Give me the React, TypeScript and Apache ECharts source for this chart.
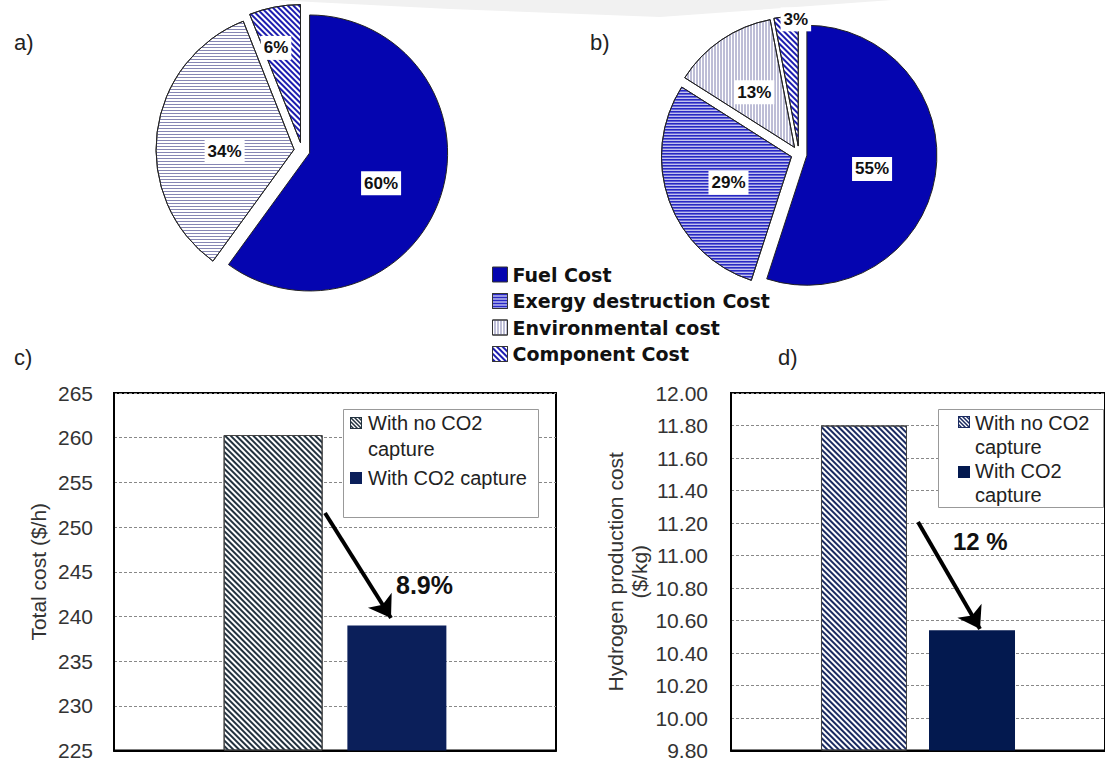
import React, { useEffect, useRef } from "react";
import * as echarts from "echarts";

// ---------- data ----------
const pieANames = ["Fuel Cost", "Environmental cost", "Component Cost"];
const pieAValues = [60, 34, 6];
const pieBNames = ["Fuel Cost", "Exergy destruction Cost", "Environmental cost", "Component Cost"];
const pieBValues = [55, 29, 13, 3];
const legendNames = ["Fuel Cost", "Exergy destruction Cost", "Environmental cost", "Component Cost"];

const barCategories = [""];
const barSeriesNames = ["With no CO2 capture", "With CO2 capture"];
const totalCostValues = [260.3, 239.0];
const h2CostValues = [11.8, 10.54];
const totalCostAxis = [225, 265, 5]; // min, max, interval
const h2CostAxis = [9.8, 12.0, 0.2];
const reductionLabels = ["8.9%", "12 %"];
const panelLabels = ["a)", "b)", "c)", "d)"];

// ---------- styles ----------
const FONT = "Liberation Sans, Arial, sans-serif";
const FUEL = "#0505b0";
const DIAG = Math.PI / 4;

const stripes = (color: string, line: number, gap: number, rotation: number) => ({
  symbol: "rect",
  symbolSize: 1,
  dashArrayX: [1, 0],
  dashArrayY: [line, gap],
  rotation,
  color,
  backgroundColor: "#ffffff",
});

const decalComponent = stripes("#1c1cb0", 2, 2, DIAG);
const decalExergy = stripes("#2828c4", 2, 1, 0);
const decalEnvB = stripes("#7c7cae", 1, 2, Math.PI / 2);
const decalEnvA = stripes("#8686b4", 1, 2, 0);

const pieBStyles = [
  { color: FUEL },
  { color: "#fff", decal: decalExergy },
  { color: "#fff", decal: decalEnvB },
  { color: "#fff", decal: decalComponent },
];
const pieAStyles = [
  { color: FUEL },
  { color: "#fff", decal: decalEnvA },
  { color: "#fff", decal: decalComponent },
];
const pieALabelShift = [[3, 8], [2, 11], [-11, -24]];
const pieBLabelShift = [[-2, 3], [1, 3], [-2, 1], [4, -59]];

const hatchIcon = (c: string) =>
  "data:image/svg+xml;charset=utf-8," +
  encodeURIComponent(
    `<svg xmlns="http://www.w3.org/2000/svg" width="12" height="12" viewBox="0 0 12 12"><rect x="0.5" y="0.5" width="11" height="11" fill="#fff" stroke="${c}" stroke-width="1"/><path d="M0,0L12,12M0,4L8,12M4,0L12,8M0,8L4,12M8,0L12,4" stroke="${c}" stroke-width="1.5" fill="none"/></svg>`
  );

function pieSeries(names: string[], values: number[], styles: any[], shifts: number[][], center: number[], radius: number) {
  return {
    type: "pie",
    center,
    radius: [0, radius],
    startAngle: 90,
    clockwise: true,
    selectedMode: "multiple",
    selectedOffset: 8,
    avoidLabelOverlap: false,
    emphasis: { disabled: true },
    itemStyle: { borderColor: "#222", borderWidth: 1 },
    select: { itemStyle: { borderColor: "#222", borderWidth: 1 } },
    label: {
      show: true,
      position: "inside",
      formatter: "{c}%",
      fontFamily: FONT,
      fontWeight: "bold",
      fontSize: 17,
      color: "#111",
      backgroundColor: "#fff",
      padding: [4, 3, 3, 3],
    },
    labelLine: { show: false },
    labelLayout: (p: any) => ({ dx: shifts[p.dataIndex][0], dy: shifts[p.dataIndex][1] }),
    data: values.map((v, i) => ({ name: names[i], value: v, selected: true, itemStyle: styles[i] })),
  };
}

function barAxes(gi: number, axis: number[], name: string, nameGap: number, margin: number, decimals: number) {
  const x = {
    gridIndex: gi,
    type: "category",
    data: barCategories,
    axisLine: { show: true, lineStyle: { color: "#000", width: 2 } },
    axisTick: { show: false },
    axisLabel: { show: false },
  };
  const y = {
    gridIndex: gi,
    type: "value",
    min: axis[0],
    max: axis[1],
    interval: axis[2],
    startValue: axis[0],
    axisLine: { show: true, lineStyle: { color: "#000", width: 2 } },
    axisTick: { show: false },
    axisLabel: {
      fontFamily: FONT,
      fontSize: 21,
      color: "#333",
      margin,
      formatter: (v: number) => v.toFixed(decimals),
    },
    splitLine: { show: true, lineStyle: { color: "#888", width: 1, type: [3, 2] } },
    name,
    nameLocation: "middle",
    nameGap,
    nameTextStyle: { fontFamily: FONT, fontSize: 21, color: "#333", lineHeight: 24 },
  };
  return { x, y };
}

function barSeries(gi: number, values: number[], width: number, gap: string, hatch: string, solid: string, arrow: number[][]) {
  return [
    {
      type: "bar",
      name: barSeriesNames[0],
      xAxisIndex: gi,
      yAxisIndex: gi,
      data: [values[0]],
      barWidth: width,
      barGap: gap,
      clip: true,
      itemStyle: { color: "#fff", borderColor: "#444", borderWidth: 1, decal: stripes(hatch, 2, 2, DIAG) },
      emphasis: { disabled: true },
      markLine: {
        silent: true,
        symbol: ["none", "arrow"],
        symbolSize: 21,
        lineStyle: { color: "#000", width: 4, type: "solid" },
        itemStyle: { color: "#000" },
        label: { show: false },
        data: [[
          { x: arrow[0][0], y: arrow[0][1], symbol: "none" },
          { x: arrow[1][0], y: arrow[1][1], symbol: "arrow", symbolSize: 21 },
        ]],
      },
    },
    {
      type: "bar",
      name: barSeriesNames[1],
      xAxisIndex: gi,
      yAxisIndex: gi,
      data: [values[1]],
      barWidth: width,
      barGap: gap,
      clip: true,
      itemStyle: { color: solid },
      emphasis: { disabled: true },
    },
  ];
}

const txt = (text: string, x: number, y: number, size: number, weight: string = "normal", color = "#222") => ({
  type: "text",
  x,
  y,
  style: { text, fontFamily: FONT, fontSize: size, fontWeight: weight, fill: color, align: "left", verticalAlign: "middle" },
});

export default function App() {
  const ref = useRef<HTMLDivElement>(null);
  useEffect(() => {
    if (!ref.current) return;
    const chart = echarts.init(ref.current, undefined, { renderer: "svg" });
    const c = barAxes(0, totalCostAxis, "Total cost ($/h)", 64, 21, 0);
    const d = barAxes(1, h2CostAxis, "Hydrogen production cost\n($/kg)", 76, 23, 2);
    const option: any = {
      animation: false,
      backgroundColor: "#fff",
      legend: {
        data: legendNames,
        orient: "vertical",
        left: 492,
        top: 265,
        padding: 0,
        icon: "rect",
        itemWidth: 15,
        itemHeight: 15,
        itemGap: 7.5,
        selectedMode: false,
        itemStyle: { borderColor: "#333", borderWidth: 1 },
        textStyle: { fontFamily: "DejaVu Sans", fontWeight: "bold", fontSize: 19, color: "#111", lineHeight: 19 },
      },
      grid: [
        { left: 114, top: 393, width: 442, height: 359, show: true, borderColor: "#000", borderWidth: 2, backgroundColor: "transparent" },
        { left: 731, top: 393, width: 382, height: 359, show: true, borderColor: "#000", borderWidth: 2, backgroundColor: "transparent" },
      ],
      xAxis: [c.x, d.x],
      yAxis: [c.y, d.y],
      series: [
        pieSeries(pieBNames, pieBValues, pieBStyles, pieBLabelShift, [799, 154], 130),
        pieSeries(pieANames, pieAValues, pieAStyles, pieALabelShift, [302, 150.5], 138),
        ...barSeries(0, totalCostValues, 99, "25%", "#23323f", "#0b1f5a", [[325, 513], [391, 618]]),
        ...barSeries(1, h2CostValues, 86, "25.6%", "#1a2a60", "#03194f", [[918, 522], [980, 629]]),
      ],
      graphic: [
        { type: "polygon", z: -10, shape: { points: [[272, 0], [892, 0], [660, 17], [450, 9]] }, style: { fill: "#f1f1f1" }, silent: true },
        txt(panelLabels[0], 14, 42, 22),
        txt(panelLabels[1], 590, 42, 22),
        txt(panelLabels[2], 14, 357, 22),
        txt(panelLabels[3], 778, 357, 22),
        // legend c
        { type: "rect", shape: { x: 343.5, y: 409.5, width: 195, height: 108 }, style: { fill: "#fff", stroke: "#999", lineWidth: 1 }, z: 10 },
        { type: "image", x: 350, y: 417, style: { image: hatchIcon("#23323f"), width: 12, height: 12 }, z: 11 },
        { type: "rect", shape: { x: 350, y: 472, width: 12, height: 12 }, style: { fill: "#0b1f5a" }, z: 11 },
        { ...txt("With no CO2", 368, 423, 20), z: 11 },
        { ...txt("capture", 368, 449, 20), z: 11 },
        { ...txt("With CO2 capture", 368, 478, 20), z: 11 },
        // legend d
        { type: "rect", shape: { x: 938.5, y: 409.5, width: 165, height: 98 }, style: { fill: "#fff", stroke: "#999", lineWidth: 1 }, z: 10 },
        { type: "image", x: 958, y: 416, style: { image: hatchIcon("#1a2a60"), width: 12, height: 12 }, z: 11 },
        { type: "rect", shape: { x: 958, y: 466, width: 12, height: 12 }, style: { fill: "#03194f" }, z: 11 },
        { ...txt("With no CO2", 975, 423, 20), z: 11 },
        { ...txt("capture", 975, 447, 20), z: 11 },
        { ...txt("With CO2", 975, 471, 20), z: 11 },
        { ...txt("capture", 975, 495, 20), z: 11 },
        // reduction labels
        { ...txt(reductionLabels[0], 396, 585, 25, "bold", "#111"), z: 11 },
        { ...txt(reductionLabels[1], 953, 541, 24, "bold", "#111"), z: 11 },
      ],
    };
    chart.setOption(option);
    return () => chart.dispose();
  }, []);
  return (
    <div
      ref={ref}
      style={{ position: "absolute", left: 0, top: 0, width: 1105, height: 761, background: "#fff" }}
    />
  );
}
